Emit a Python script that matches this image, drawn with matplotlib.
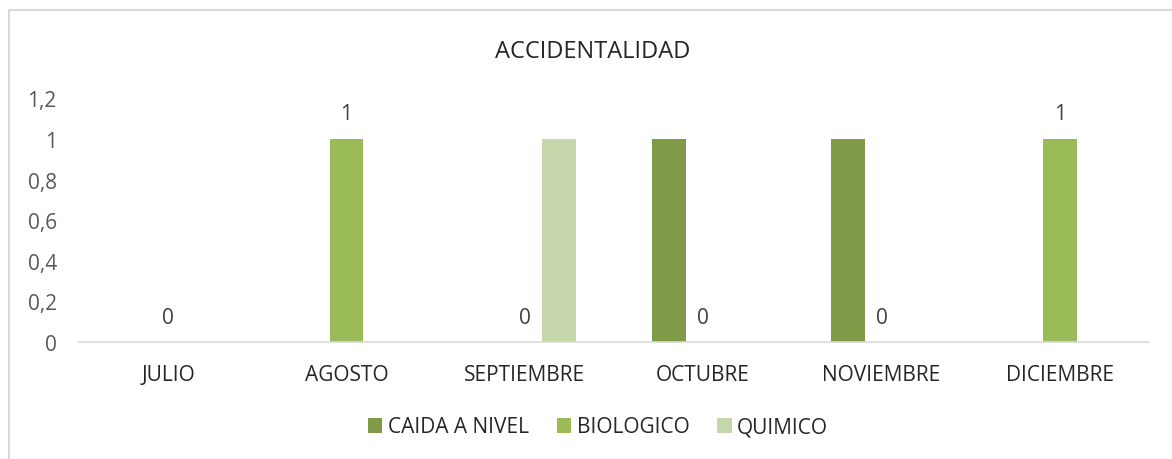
import numpy as np
import matplotlib
matplotlib.use('Agg')
import matplotlib.pyplot as plt
from matplotlib.lines import Line2D

months = ['JULIO', 'AGOSTO', 'SEPTIEMBRE', 'OCTUBRE', 'NOVIEMBRE', 'DICIEMBRE']
caida = [0, 0, 0, 1, 1, 0]
biologico = [0, 1, 0, 0, 0, 1]
quimico = [0, 0, 1, 0, 0, 0]
series_names = ['CAIDA A NIVEL', 'BIOLOGICO', 'QUIMICO']
colors = ['#7F9B48', '#9BBB59', '#C5D6AB']
y_ticks = [0, 0.2, 0.4, 0.6, 0.8, 1, 1.2]

plt.rcParams['font.family'] = ['Open Sans', 'DejaVu Sans']

fig = plt.figure(figsize=(11.72, 4.6), dpi=100)
ax = fig.add_axes([79 / 1172, 1 - 343 / 460, 1070 / 1172, 243.6 / 460])

x = np.arange(len(months))
width = 0.19
for i, (vals, name, col) in enumerate(zip([caida, biologico, quimico], series_names, colors)):
    bars = ax.bar(x + (i - 1) * width, vals, width, color=col, label=name)
    if name == 'BIOLOGICO':
        for b, v in zip(bars, vals):
            ax.annotate(str(v), (b.get_x() + b.get_width() / 2, v),
                        xytext=(0, 18), textcoords='offset points',
                        ha='center', va='center', fontsize=15, color='#404040')

ax.set_xlim(-0.5, len(months) - 0.5)
ax.set_ylim(0, 1.2)
ax.set_yticks(y_ticks)
ax.set_yticklabels([('%g' % t).replace('.', ',') for t in y_ticks])
ax.set_xticks(x)
ax.set_xticklabels(months)
ax.tick_params(axis='y', length=0, pad=16, labelsize=15, labelcolor='#595959')
ax.tick_params(axis='x', length=0, pad=16, labelsize=15, labelcolor='#262626')
for s in ['top', 'right', 'left']:
    ax.spines[s].set_visible(False)
ax.spines['bottom'].set_color('#D9D9D9')
ax.spines['bottom'].set_linewidth(1.2)

fig.text(593 / 1172, 1 - 52 / 460, 'ACCIDENTALIDAD', ha='center', va='center',
         fontsize=17, color='#262626')

fig.legend(loc='center', bbox_to_anchor=(598 / 1172, 1 - 428 / 460), ncol=3,
           frameon=False, fontsize=15, handlelength=0.7, handleheight=0.7,
           handletextpad=0.25, columnspacing=1.35, labelcolor='#262626')

# chart frame (top and left edges visible in the reference)
fig.add_artist(Line2D([8.5 / 1172, 1], [1 - 10.5 / 460, 1 - 10.5 / 460],
                      transform=fig.transFigure, color='#D9D9D9', lw=1.5))
fig.add_artist(Line2D([8.5 / 1172, 8.5 / 1172], [0, 1 - 10.5 / 460],
                      transform=fig.transFigure, color='#D9D9D9', lw=1.5))

fig.savefig('out.png', dpi=100)
